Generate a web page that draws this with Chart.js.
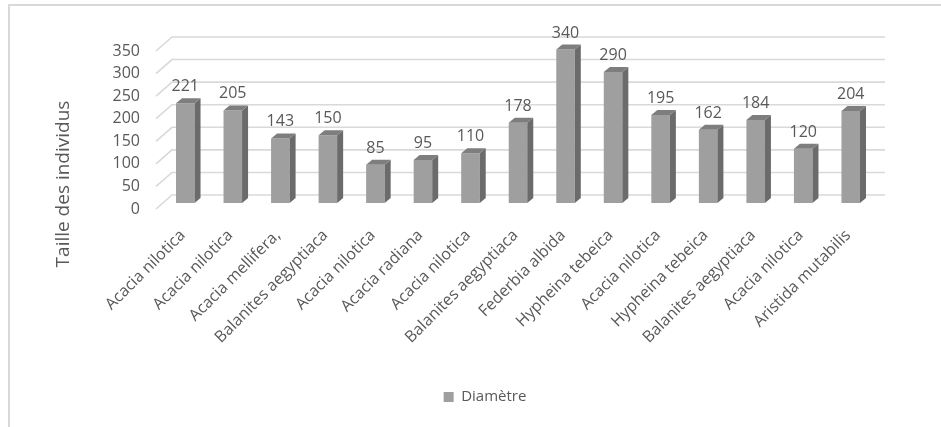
<!DOCTYPE html>
<html>
<head>
<meta charset="utf-8">
<script src="https://cdn.jsdelivr.net/npm/chart.js@4/dist/chart.umd.min.js"></script>
<style>
    html, body { margin: 0; padding: 0; overflow: hidden; background: #fff; }
    #wrap { position: relative; width: 941px; height: 427px; }
    #frame {
        position: absolute; left: 8px; top: 4px; width: 1000px; height: 500px;
        border-top: 2px solid #d9d9d9; border-left: 2px solid #d9d9d9;
    }
    #chart { position: absolute; left: 0; top: 0; }
</style>
</head>
<body>
<div id="wrap">
    <div id="frame"></div>
    <canvas id="chart" width="941" height="427"></canvas>
</div>
<script>
// Species and measured values
const SPECIES = [
    'Acacia nilotica', 'Acacia nilotica', 'Acacia mellifera,', 'Balanites aegyptiaca',
    'Acacia nilotica', 'Acacia radiana', 'Acacia nilotica', 'Balanites aegyptiaca',
    'Federbia albida', 'Hypheina tebeica', 'Acacia nilotica', 'Hypheina tebeica',
    'Balanites aegyptiaca', 'Acacia nilotica', 'Aristida mutabilis'
];
const DIAMETRE = [221, 205, 143, 150, 85, 95, 110, 178, 340, 290, 195, 162, 184, 120, 204];
const Y_TICKS = [0, 50, 100, 150, 200, 250, 300, 350];

const SERIES_NAME = 'Diamètre';
const AXIS_TITLE = 'Taille des individus';

const TEXT_COLOR = '#595959';
const GRID_COLOR = '#d9d9d9';
const FONT = '"Open Sans", "Noto Sans", sans-serif';

// Depth of the floor (front edge -> back wall) and of each bar
const DEPTH = { x: 16, y: -14 };
const BAR_SHIFT = { x: 5.5, y: -6 };
const BAR_DEPTH = { x: 6, y: -5 };

// Fake 3D: grid on the back wall, side/top faces on the bars, value labels
const bars3d = {
    id: 'bars3d',
    afterLayout(chart) {
        // centre the legend under the plot like the spreadsheet does
        const lg = chart.legend;
        const dx = 485 - (lg.left + lg.right) / 2;
        const dy = 397 - (lg.top + lg.bottom) / 2;
        lg.left += dx; lg.right += dx;
        lg.top += dy; lg.bottom += dy;
        if (lg.legendHitBoxes) {
            lg.legendHitBoxes.forEach(b => { b.left += dx; b.top += dy; });
        }
    },
    beforeDatasetsDraw(chart) {
        const { ctx, chartArea } = chart;
        const y = chart.scales.y;
        ctx.save();
        ctx.strokeStyle = GRID_COLOR;
        ctx.lineWidth = 1.6;
        Y_TICKS.forEach(v => {
            const py = y.getPixelForValue(v);
            ctx.beginPath();
            ctx.moveTo(chartArea.left, py);
            ctx.lineTo(chartArea.left + DEPTH.x, py + DEPTH.y);
            ctx.lineTo(chartArea.right + DEPTH.x, py + DEPTH.y);
            ctx.stroke();
        });
        ctx.restore();

        ctx.save();
        ctx.translate(BAR_SHIFT.x, BAR_SHIFT.y);
    },
    afterDatasetsDraw(chart) {
        const { ctx } = chart;
        const meta = chart.getDatasetMeta(0);
        meta.data.forEach(bar => {
            const left = bar.x - bar.width / 2;
            const right = bar.x + bar.width / 2;
            const top = bar.y;
            const base = bar.base;

            // right side face
            ctx.fillStyle = '#6b6b6b';
            ctx.beginPath();
            ctx.moveTo(right, top);
            ctx.lineTo(right + BAR_DEPTH.x, top + BAR_DEPTH.y);
            ctx.lineTo(right + BAR_DEPTH.x, base + BAR_DEPTH.y);
            ctx.lineTo(right, base);
            ctx.closePath();
            ctx.fill();

            // top face
            ctx.fillStyle = '#7e7e7e';
            ctx.beginPath();
            ctx.moveTo(left, top);
            ctx.lineTo(left + BAR_DEPTH.x, top + BAR_DEPTH.y);
            ctx.lineTo(right + BAR_DEPTH.x, top + BAR_DEPTH.y);
            ctx.lineTo(right, top);
            ctx.closePath();
            ctx.fill();
        });

        // value labels
        ctx.fillStyle = TEXT_COLOR;
        ctx.font = '16px ' + FONT;
        ctx.textAlign = 'center';
        ctx.textBaseline = 'alphabetic';
        meta.data.forEach((bar, i) => {
            ctx.fillText(String(DIAMETRE[i]), bar.x, bar.y - 12);
        });
        ctx.restore();
    },
    afterDraw(chart) {
        const { ctx } = chart;
        ctx.save();
        ctx.translate(64, 184);
        ctx.rotate(-Math.PI / 2);
        ctx.fillStyle = TEXT_COLOR;
        ctx.font = '19px ' + FONT;
        ctx.textAlign = 'center';
        ctx.textBaseline = 'middle';
        ctx.fillText(AXIS_TITLE, 0, 0);
        ctx.restore();
    }
};

new Chart(document.getElementById('chart'), {
    type: 'bar',
    data: {
        labels: SPECIES,
        datasets: [{
            label: SERIES_NAME,
            data: DIAMETRE,
            backgroundColor: '#9f9f9f',
            borderWidth: 0,
            barPercentage: 0.39,
            categoryPercentage: 1
        }]
    },
    options: {
        responsive: false,
        animation: false,
        devicePixelRatio: 1,
        layout: {
            padding: { left: 0, right: 72, top: 51, bottom: 13 }
        },
        scales: {
            y: {
                min: 0,
                max: 350,
                afterFit: s => { s.width = 156; },
                afterBuildTicks: s => { s.ticks = Y_TICKS.map(v => ({ value: v })); },
                grid: { display: false, drawTicks: false },
                border: { display: false },
                ticks: {
                    color: TEXT_COLOR,
                    font: { size: 16, family: FONT },
                    padding: 16
                }
            },
            x: {
                afterFit: s => { s.height = 170; },
                grid: { display: false, drawTicks: false },
                border: { display: false },
                ticks: {
                    color: TEXT_COLOR,
                    font: { size: 16, family: FONT },
                    autoSkip: false,
                    minRotation: 45,
                    maxRotation: 45,
                    labelOffset: 3,
                    padding: 17
                }
            }
        },
        plugins: {
            legend: {
                position: 'bottom',
                labels: {
                    color: TEXT_COLOR,
                    font: { size: 15, family: FONT },
                    boxWidth: 10,
                    boxHeight: 10,
                    padding: 10
                }
            },
            tooltip: { enabled: false }
        }
    },
    plugins: [bars3d]
});
</script>
</body>
</html>
